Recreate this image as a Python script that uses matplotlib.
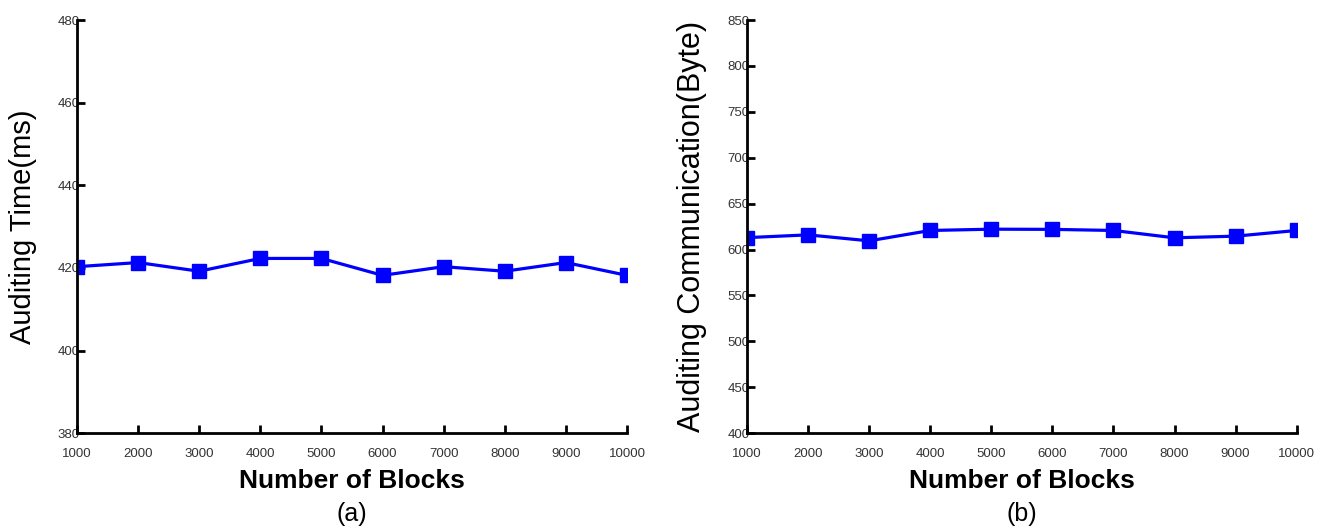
import matplotlib
matplotlib.use("Agg")
import matplotlib.pyplot as plt

plt.rcParams.update({"font.family": ["Liberation Sans", "DejaVu Sans"]})

blocks = [1000, 2000, 3000, 4000, 5000, 6000, 7000, 8000, 9000, 10000]
tempo_ms = [420.3, 421.3, 419.2, 422.3, 422.3, 418.2, 420.3, 419.2, 421.3, 418.2]
comunic_byte = [613, 616, 609.5, 620.8, 622.2, 622, 620.8, 612.8, 614.6, 620.8]

fig = plt.figure(figsize=(13.34, 5.27), dpi=100)
ax1 = fig.add_axes([0.0577, 0.178, 0.4123, 0.784])
ax2 = fig.add_axes([0.560, 0.178, 0.412, 0.784])

paineis = [
    (ax1, tempo_ms, (380, 480), range(380, 481, 20), "Auditing Time(ms)", "(a)", 21),
    (ax2, comunic_byte, (400, 850), range(400, 851, 50), "Auditing Communication(Byte)", "(b)", 22),
]

for ax, y, lim, yt, ylab, letra, fs in paineis:
    ax.plot(blocks, y, color="#0000ff", lw=2.3, marker="s", ms=10.5,
            mfc="#0000ff", mec="#0000ff")
    ax.set_xlim(1000, 10000)
    ax.set_ylim(*lim)
    ax.set_xticks(blocks)
    ax.set_yticks(list(yt))
    ax.spines["top"].set_visible(False)
    ax.spines["right"].set_visible(False)
    ax.spines["left"].set_linewidth(2)
    ax.spines["bottom"].set_linewidth(2)
    ax.tick_params(direction="in", length=6, width=2, labelsize=9.5, colors="black")
    ax.tick_params(axis="x", pad=11)
    ax.tick_params(axis="y", pad=-2)
    ax.set_ylabel(ylab, fontsize=fs)
    ax.yaxis.set_label_coords(-0.072, 0.5)
    ax.set_xlabel("Number of Blocks", fontsize=19, fontweight="bold", labelpad=6)
    ax.text(0.5, -0.195, letra, transform=ax.transAxes, ha="center", va="center",
            fontsize=18)
    for lb in ax.get_xticklabels() + ax.get_yticklabels():
        lb.set_color("#333333")

fig.savefig("out.png", dpi=100)
